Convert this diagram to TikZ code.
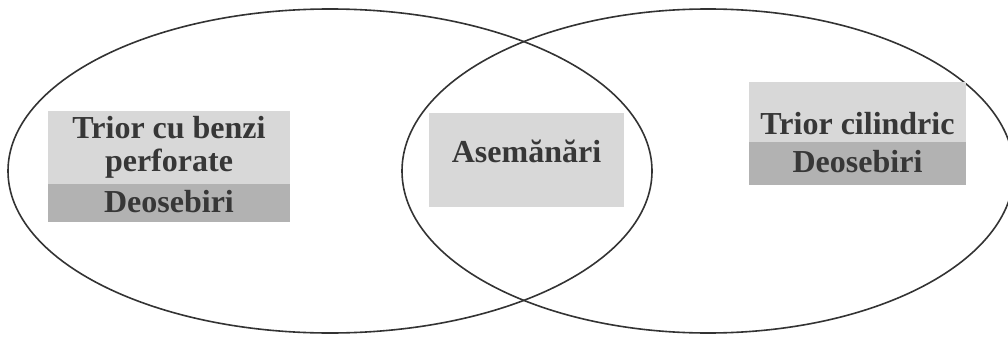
\documentclass[tikz,border=0pt]{standalone}
\usepackage{fontspec}
\setmainfont{Liberation Serif}
\usetikzlibrary{positioning}
\definecolor{lightbox}{RGB}{216,216,216}
\definecolor{darkbox}{RGB}{178,178,178}
\definecolor{boxtext}{RGB}{55,55,55}

\begin{document}
\begin{tikzpicture}[x=1pt, y=1pt,
      set/.style={draw=black!80, line width=1.6pt},
      tbox/.style={fill=lightbox, inner sep=0pt, align=center, text=boxtext,
          font=\fontsize{32}{33}\selectfont\bfseries},
      dbox/.style={tbox, fill=darkbox}]
    \useasboundingbox (0,0) rectangle (1008,338);
    % the two sets
    \draw[set] (330,167) ellipse [x radius=322, y radius=162];
    \draw[set] (708,167) ellipse [x radius=306, y radius=162];
    % left set
    \node[tbox, minimum width=242pt, minimum height=73pt] (bandname) at (169,190.5)
    {Trior cu benzi\\perforate};
    \node[dbox, below=0pt of bandname, minimum width=242pt,
          text height=28pt, text depth=10pt] (banddif) {Deosebiri};
    % common part
    \node[tbox, minimum width=195pt, text height=49pt, text depth=45pt] (common)
      at (526.5,178) {Asemănări};
    % right set
    \node[tbox, minimum width=217pt, text height=52pt, text depth=8pt] (cylname)
      at (857.5,226) {Trior cilindric};
    \node[dbox, below=0pt of cylname, minimum width=217pt,
          text height=30pt, text depth=13pt] (cyldif) {Deosebiri};
  \end{tikzpicture}
\end{document}
